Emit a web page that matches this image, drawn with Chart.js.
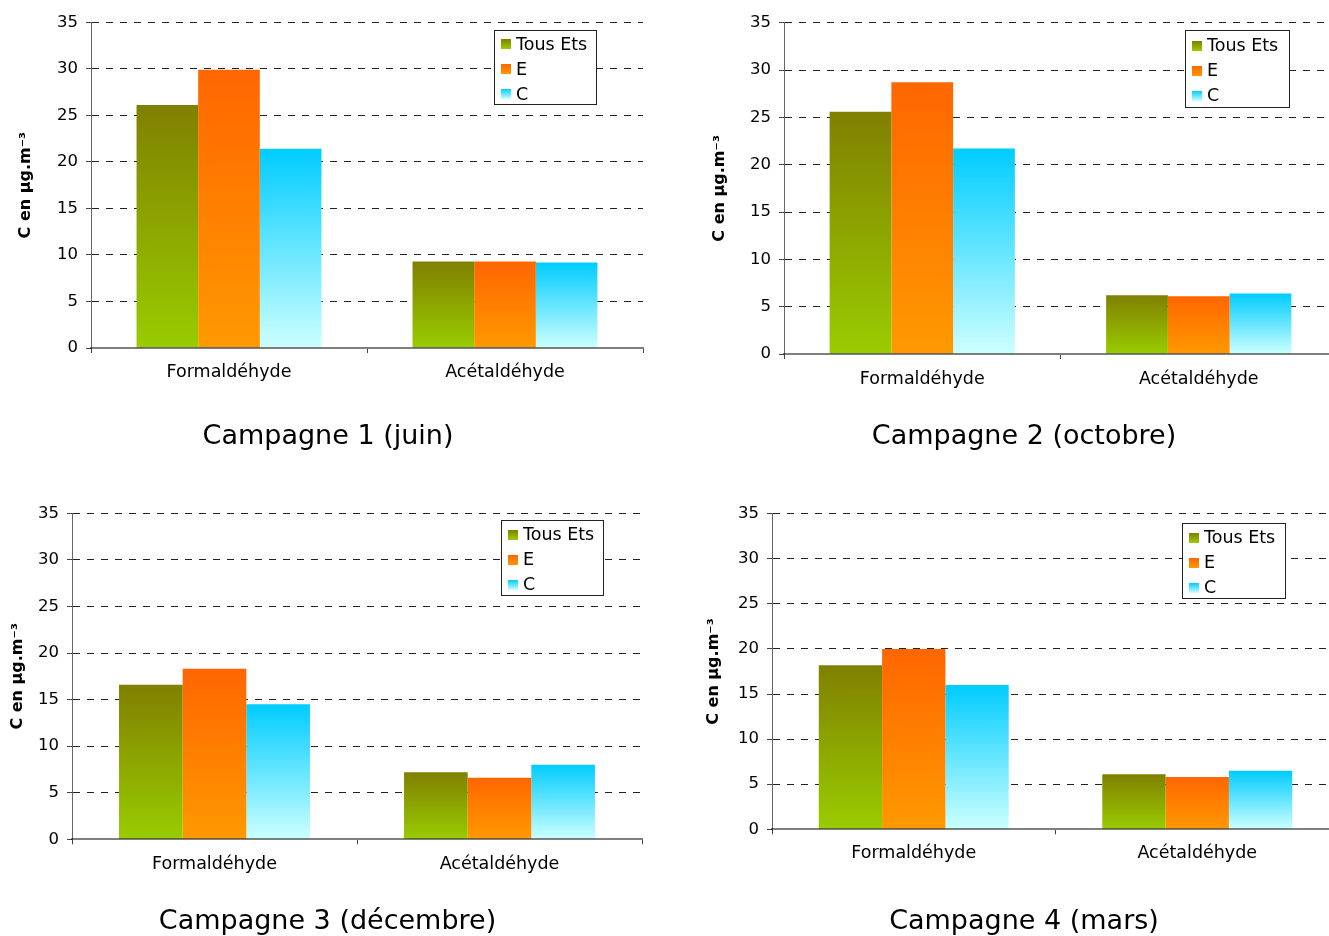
<!DOCTYPE html>
<html lang="fr">
<head>
<meta charset="utf-8">
<title>Aldéhydes – campagnes de mesure</title>
<script src="https://cdn.jsdelivr.net/npm/chart.js@4/dist/chart.umd.min.js"></script>
<style>
  html, body { margin: 0; padding: 0; background: #fff; overflow: hidden; width: 1329px; height: 936px; }
  canvas { position: absolute; }
</style>
</head>
<body>
<canvas id="campagne1"></canvas>
<canvas id="campagne2"></canvas>
<canvas id="campagne3"></canvas>
<canvas id="campagne4"></canvas>
<script>
// Polluants et groupes d'établissements
const categories = ['Formaldéhyde', 'Acétaldéhyde'];
const seriesNames = ['Tous Ets', 'E', 'C'];

// Axe des concentrations
const yMin = 0;
const yMax = 35;
const yStep = 5;
const yAxisTitle = 'C en µg.m⁻³';

const campaignTitles = ['Campagne 1 (juin)', 'Campagne 2 (octobre)', 'Campagne 3 (décembre)', 'Campagne 4 (mars)'];

// Concentrations moyennes, [Formaldéhyde, Acétaldéhyde]
const juinTous = [26.1, 9.3];
const juinE = [29.9, 9.3];
const juinC = [21.4, 9.2];

const octobreTous = [25.6, 6.2];
const octobreE = [28.7, 6.1];
const octobreC = [21.7, 6.4];

const decembreTous = [16.6, 7.2];
const decembreE = [18.3, 6.6];
const decembreC = [14.5, 8.0];

const marsTous = [18.2, 6.1];
const marsE = [20.0, 5.8];
const marsC = [16.0, 6.5];

// Dégradés verticaux (haut -> bas) de chaque série
const seriesStops = [
  ['#808000', '#99cc00'],
  ['#ff6600', '#ff9900'],
  ['#00ccff', '#ccffff']
];

Chart.defaults.font.family = '"DejaVu Sans", Verdana, sans-serif';
Chart.defaults.color = '#000';

// Mise en page de chaque graphique (coordonnées de la page)
const panels = [
  { id: 'campagne1', values: [juinTous, juinE, juinC], title: campaignTitles[0],
    left: 0, top: 0, width: 656, height: 468,
    axisX: 91, plotRight: 643, plotTop: 22.3, plotBottom: 348,
    labelY: 372.5, titleX: 328, titleY: 436.5, yTitleX: 26,
    legend: { x: 494, y: 30, w: 102, h: 74 } },
  { id: 'campagne2', values: [octobreTous, octobreE, octobreC], title: campaignTitles[1],
    left: 700, top: 0, width: 648, height: 468,
    axisX: 784, plotRight: 1337, plotTop: 22.7, plotBottom: 354,
    labelY: 379, titleX: 1024, titleY: 436.5, yTitleX: 720,
    legend: { x: 1185, y: 30, w: 104, h: 77 } },
  { id: 'campagne3', values: [decembreTous, decembreE, decembreC], title: campaignTitles[2],
    left: 0, top: 490, width: 655, height: 446,
    axisX: 72, plotRight: 642, plotTop: 513.3, plotBottom: 839.3,
    labelY: 864, titleX: 327.5, titleY: 922, yTitleX: 18,
    legend: { x: 501, y: 520, w: 102, h: 75 } },
  { id: 'campagne4', values: [marsTous, marsE, marsC], title: campaignTitles[3],
    left: 700, top: 490, width: 648, height: 446,
    axisX: 772, plotRight: 1339, plotTop: 513.7, plotBottom: 829.3,
    labelY: 853.5, titleX: 1024, titleY: 922, yTitleX: 714,
    legend: { x: 1182, y: 523, w: 103, h: 75 } }
];

// Dégradé propre à chaque barre, du sommet jusqu'à la base
function barGradient(stops) {
  return (ctx) => {
    const chart = ctx.chart;
    if (ctx.type !== 'data' || !chart.chartArea || !chart.scales.y) return stops[0];
    const y = chart.scales.y;
    const top = y.getPixelForValue(ctx.raw);
    const base = y.getPixelForValue(0);
    if (!isFinite(top) || !isFinite(base) || top === base) return stops[0];
    const g = chart.ctx.createLinearGradient(0, top, 0, base);
    g.addColorStop(0, stops[0]);
    g.addColorStop(1, stops[1]);
    return g;
  };
}

// Légende encadrée à l'intérieur de la zone de tracé
const insideLegend = {
  id: 'insideLegend',
  afterDraw(chart, args, opts) {
    const b = opts.box;
    if (!b) return;
    const ctx = chart.ctx;
    ctx.save();
    ctx.fillStyle = '#fff';
    ctx.fillRect(b.x, b.y, b.w, b.h);
    ctx.strokeStyle = '#222';
    ctx.lineWidth = 1;
    ctx.strokeRect(Math.round(b.x) + 0.5, Math.round(b.y) + 0.5, Math.round(b.w), Math.round(b.h));
    ctx.font = '17.5px "DejaVu Sans", Verdana, sans-serif';
    ctx.textBaseline = 'middle';
    ctx.textAlign = 'left';
    chart.data.datasets.forEach((ds, i) => {
      const rowY = b.y + b.h / 2 + 3 + (i - 1) * 25;
      const sy = Math.round(rowY - 6);
      const g = ctx.createLinearGradient(0, sy, 0, sy + 10);
      g.addColorStop(0, seriesStops[i][0]);
      g.addColorStop(1, seriesStops[i][1]);
      ctx.fillStyle = g;
      ctx.fillRect(Math.round(b.x + 7), sy, 10, 10);
      ctx.fillStyle = '#000';
      ctx.fillText(ds.label, b.x + 22, rowY);
    });
    ctx.restore();
  }
};

function makeChart(p) {
  const canvas = document.getElementById(p.id);
  canvas.width = p.width;
  canvas.height = p.height;
  canvas.style.left = p.left + 'px';
  canvas.style.top = p.top + 'px';
  canvas.style.width = p.width + 'px';
  canvas.style.height = p.height + 'px';

  const plotTop = p.plotTop - p.top;
  const plotBottom = p.plotBottom - p.top;
  const axisX = p.axisX - p.left;
  const plotRight = p.plotRight - p.left;
  const titleX = p.titleX - p.left;
  const titleY = p.titleY - p.top;
  const yTitleX = p.yTitleX - p.left;

  const padLeft = 2 * titleX - plotRight;
  const padRight = p.width - plotRight;
  const xScaleH = 44;
  const titleSize = 27;
  const titlePadTop = titleY - (plotBottom + xScaleH) - titleSize / 2;
  const titlePadBottom = Math.max(0, p.height - plotBottom - xScaleH - titlePadTop - titleSize);
  const tickLen = 5;
  const labelSize = 17.5;
  const xLabelPad = (p.labelY - p.top) - plotBottom - tickLen - labelSize * 1.2 / 2;
  const yTitleSize = 16;
  const yTitlePad = yTitleX - padLeft - yTitleSize * 1.2 / 2;

  const legendBox = { x: p.legend.x - p.left, y: p.legend.y - p.top, w: p.legend.w, h: p.legend.h };

  return new Chart(canvas, {
    type: 'bar',
    data: {
      labels: categories,
      datasets: seriesNames.map((name, i) => ({
        label: name,
        data: p.values[i],
        backgroundColor: barGradient(seriesStops[i]),
        borderWidth: 0,
        categoryPercentage: 0.67,
        barPercentage: 1
      }))
    },
    options: {
      responsive: false,
      animation: false,
      devicePixelRatio: 1,
      events: [],
      layout: { padding: { top: plotTop, left: padLeft, right: padRight, bottom: 0 } },
      plugins: {
        legend: { display: false },
        tooltip: { enabled: false },
        title: {
          display: true,
          text: p.title,
          position: 'bottom',
          color: '#000',
          font: { size: titleSize, weight: 'normal', lineHeight: 1 },
          padding: { top: titlePadTop, bottom: titlePadBottom }
        },
        insideLegend: { box: legendBox }
      },
      scales: {
        x: {
          offset: true,
          grid: { display: true, drawOnChartArea: false, drawTicks: true, tickLength: tickLen, tickColor: '#444', offset: true },
          border: { display: true, color: 'rgba(0,0,0,0.5)', width: 2, z: 1 },
          ticks: { color: '#000', font: { size: labelSize }, padding: xLabelPad, maxRotation: 0, autoSkip: false },
          afterFit: (s) => { s.height = xScaleH; }
        },
        y: {
          min: yMin,
          max: yMax,
          ticks: { stepSize: yStep, color: '#000', font: { size: 16.5 }, padding: 8 },
          grid: {
            color: (c) => (c.tick && c.tick.value === 0 ? 'rgba(0,0,0,0)' : '#222'),
            tickColor: '#444',
            tickLength: tickLen,
            tickBorderDash: []
          },
          border: { display: true, color: '#666', width: 1, dash: [7, 7] },
          title: {
            display: true,
            text: yAxisTitle,
            color: '#000',
            font: { size: yTitleSize, weight: 'bold' },
            padding: { top: yTitlePad, bottom: 0 }
          },
          afterFit: (s) => { s.width = axisX - padLeft; }
        }
      }
    },
    plugins: [insideLegend]
  });
}

panels.forEach(makeChart);
</script>
</body>
</html>
